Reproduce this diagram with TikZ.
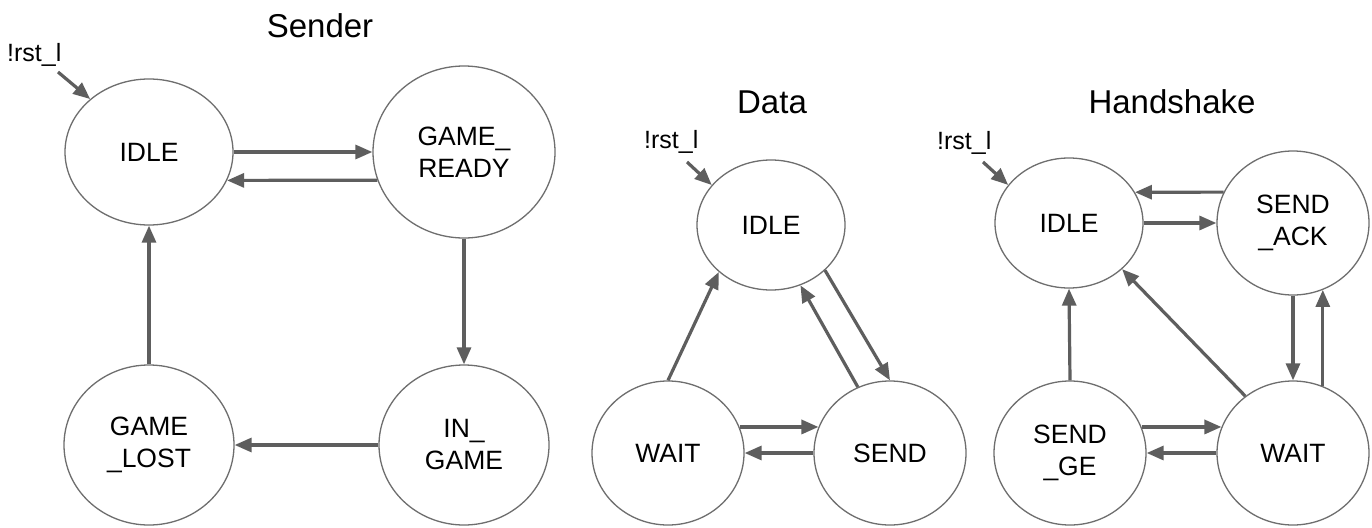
\documentclass[tikz,border=0pt]{standalone}
\usepackage{fontspec}
\setmainfont{Liberation Sans}
\usetikzlibrary{arrows.meta,shapes.geometric}
\definecolor{edgegray}{HTML}{5E5E5E}
\definecolor{ringgray}{HTML}{6E6E6E}
\tikzset{
  st/.style={ellipse, draw=ringgray, line width=1.3pt, fill=white, inner sep=0pt,
    align=center, font=\fontsize{26.5}{32}\selectfont},
  tr/.style={draw=edgegray, line width=3.2pt, -{Triangle[length=17pt,width=14pt]}},
  ttl/.style={font=\fontsize{33}{38}\selectfont},
  rst/.style={font=\fontsize{25}{30}\selectfont, anchor=west, inner sep=0pt}
}
\begin{document}
\begin{tikzpicture}[x=1pt,y=-1pt]
\useasboundingbox[fill=white] (0,0) rectangle (1372,527);
% ---------- Sender ----------
\node[ttl] (tS) at (320,26) {Sender};
\node[rst] (rS) at (7,55) {!rst\_l};
\node[st, minimum width=168pt, minimum height=146pt] (sI) at (149,152) {IDLE};
\node[st, minimum width=182pt, minimum height=172pt] (sR) at (464,152) {GAME\_\\READY};
\node[st, minimum width=170pt, minimum height=160pt] (sG) at (464,445) {IN\_\\GAME};
\node[st, minimum width=170pt, minimum height=160pt] (sL) at (149,445) {GAME\\\_LOST};
\coordinate (sInit) at (58,72);
\draw[tr] (sInit) -- (sI.138);
\draw[tr] (sI.east) -- (sR.west);
\draw[tr] (sR.198) -- (sI.340);
\draw[tr] (sR.south) -- (sG.north);
\draw[tr] (sG.west) -- (sL.east);
\draw[tr] (sL.north) -- (sI.south);
% ---------- Data ----------
\node[ttl] (tD) at (772,102) {Data};
\node[rst] (rD) at (644,142) {!rst\_l};
\node[st, minimum width=148pt, minimum height=130pt] (dI) at (771,225) {IDLE};
\node[st, minimum width=152pt, minimum height=144pt] (dW) at (668,453) {WAIT};
\node[st, minimum width=152pt, minimum height=144pt] (dS) at (890,453) {SEND};
\coordinate (dInit) at (687,162);
\draw[tr] (dInit) -- (dI.146);
\draw[tr] (dW.north) -- (dI.222);
\draw[tr] (dI.320) -- (dS.north);
\draw[tr] (dS.116) -- (dI.296);
\draw[tr] (dW.20) -- (dS.160);
\draw[tr] (dS.west) -- (dW.east);
% ---------- Handshake ----------
\node[ttl] (tH) at (1172,102) {Handshake};
\node[rst] (rH) at (937,143) {!rst\_l};
\node[st, minimum width=148pt, minimum height=130pt] (hI) at (1069,223) {IDLE};
\node[st, minimum width=152pt, minimum height=144pt] (hA) at (1293,223) {SEND\\\_ACK};
\node[st, minimum width=152pt, minimum height=144pt] (hG) at (1070,453) {SEND\\\_GE};
\node[st, minimum width=152pt, minimum height=144pt] (hW) at (1293,453) {WAIT};
\coordinate (hInit) at (983,162);
\draw[tr] (hInit) -- (hI.148);
\draw[tr] (hA.156) -- (hI.25);
\draw[tr] (hI.east) -- (hA.west);
\draw[tr] (hW.130) -- (hI.319);
\draw[tr] (hG.north) -- (hI.south);
\draw[tr] (hA.south) -- (hW.north);
\draw[tr] (hW.66) -- (hA.294);
\draw[tr] (hG.20) -- (hW.160);
\draw[tr] (hW.west) -- (hG.east);
\end{tikzpicture}
\end{document}
